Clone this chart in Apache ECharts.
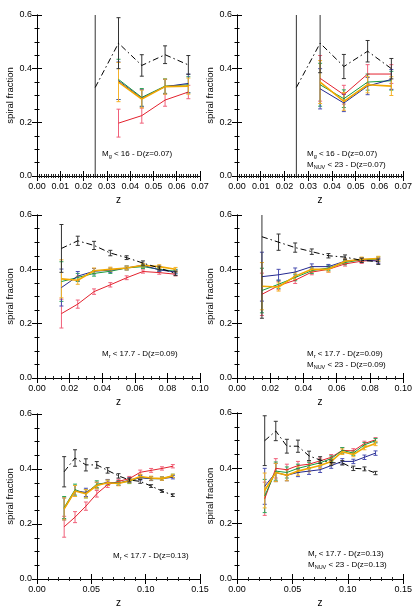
<!DOCTYPE html>
<html>
<head>
<meta charset="utf-8">
<script src="https://cdn.jsdelivr.net/npm/echarts@6/dist/echarts.min.js"></script>
<style>
    html, body { margin: 0; padding: 0; background: #fff; }
    #chart { width: 415px; height: 616px; }
</style>
</head>
<body>
<div id="chart"></div>
<script>
// rows: black (all), red, green, blue, orange
const p1Z = [0.025, 0.035, 0.045, 0.055, 0.065]
const p1Frac = [
    [0.33, 0.495, 0.412, 0.452, 0.414],
    [null, 0.197, 0.225, 0.283, 0.313],
    [null, 0.36, 0.293, 0.335, 0.34],
    [null, 0.355, 0.29, 0.333, 0.345],
    [null, 0.35, 0.287, 0.333, 0.335]
]
const p1Err = [
    [0.7, 0.095, 0.04, 0.033, 0.035],
    [null, 0.052, 0.028, 0.023, 0.025],
    [null, 0.075, 0.033, 0.027, 0.03],
    [null, 0.07, 0.032, 0.027, 0.035],
    [null, 0.073, 0.033, 0.028, 0.03]
]

const p2Z = [0.025, 0.035, 0.045, 0.055, 0.065]
const p2Frac = [
    [0.33, 0.495, 0.408, 0.465, 0.40],
    [null, 0.364, 0.303, 0.38, 0.38],
    [null, 0.34, 0.288, 0.35, 0.355],
    [null, 0.325, 0.272, 0.335, 0.36],
    [null, 0.35, 0.278, 0.34, 0.335]
]
const p2Err = [
    [0.7, 0.11, 0.045, 0.04, 0.038],
    [null, 0.085, 0.035, 0.035, 0.035],
    [null, 0.08, 0.033, 0.03, 0.035],
    [null, 0.075, 0.032, 0.032, 0.037],
    [null, 0.08, 0.033, 0.03, 0.035]
]

const p3Z = [0.015, 0.025, 0.035, 0.045, 0.055, 0.065, 0.075, 0.085]
const p3Frac = [
    [0.477, 0.505, 0.488, 0.46, 0.443, 0.423, 0.405, 0.385],
    [0.237, 0.272, 0.318, 0.343, 0.369, 0.392, 0.388, 0.382],
    [0.355, 0.37, 0.385, 0.393, 0.405, 0.41, 0.40, 0.393],
    [0.333, 0.375, 0.393, 0.397, 0.405, 0.415, 0.398, 0.39],
    [0.365, 0.36, 0.395, 0.40, 0.405, 0.415, 0.41, 0.40]
]
const p3Err = [
    [0.088, 0.017, 0.015, 0.01, 0.007, 0.008, 0.007, 0.008],
    [0.053, 0.015, 0.01, 0.008, 0.007, 0.006, 0.006, 0.006],
    [0.073, 0.015, 0.01, 0.008, 0.007, 0.007, 0.007, 0.007],
    [0.068, 0.017, 0.01, 0.008, 0.007, 0.007, 0.007, 0.007],
    [0.07, 0.015, 0.01, 0.008, 0.007, 0.007, 0.007, 0.007]
]

const p4Z = [0.015, 0.025, 0.035, 0.045, 0.055, 0.065, 0.075, 0.085]
const p4Frac = [
    [0.52, 0.50, 0.48, 0.465, 0.45, 0.445, 0.433, 0.428],
    [0.308, 0.34, 0.36, 0.39, 0.40, 0.42, 0.43, 0.435],
    [0.322, 0.345, 0.37, 0.395, 0.405, 0.425, 0.435, 0.438],
    [0.373, 0.38, 0.39, 0.41, 0.41, 0.43, 0.435, 0.43],
    [0.338, 0.335, 0.375, 0.40, 0.40, 0.43, 0.437, 0.44]
]
const p4Err = [
    [0.3, 0.03, 0.017, 0.01, 0.008, 0.008, 0.008, 0.01],
    [0.078, 0.015, 0.012, 0.01, 0.01, 0.008, 0.008, 0.008],
    [0.082, 0.015, 0.012, 0.01, 0.01, 0.008, 0.008, 0.008],
    [0.09, 0.02, 0.015, 0.01, 0.008, 0.008, 0.008, 0.008],
    [0.087, 0.015, 0.012, 0.01, 0.01, 0.008, 0.008, 0.008]
]

const p5Z = [0.025, 0.035, 0.045, 0.055, 0.065, 0.075, 0.085, 0.095, 0.105, 0.115, 0.125]
const p5Frac = [
    [0.39, 0.44, 0.415, 0.415, 0.395, 0.375, 0.36, 0.355, 0.338, 0.32, 0.305],
    [0.19, 0.225, 0.265, 0.31, 0.343, 0.355, 0.365, 0.388, 0.395, 0.402, 0.41],
    [0.26, 0.325, 0.31, 0.345, 0.35, 0.35, 0.355, 0.37, 0.365, 0.365, 0.375],
    [0.255, 0.32, 0.315, 0.34, 0.352, 0.348, 0.36, 0.368, 0.365, 0.365, 0.37],
    [0.255, 0.32, 0.31, 0.34, 0.35, 0.347, 0.357, 0.373, 0.367, 0.365, 0.375]
]
const p5Err = [
    [0.055, 0.03, 0.022, 0.012, 0.01, 0.008, 0.007, 0.007, 0.005, 0.005, 0.005],
    [0.038, 0.02, 0.015, 0.012, 0.01, 0.008, 0.008, 0.008, 0.007, 0.006, 0.006],
    [0.04, 0.02, 0.015, 0.012, 0.01, 0.008, 0.008, 0.008, 0.007, 0.006, 0.006],
    [0.04, 0.02, 0.015, 0.012, 0.01, 0.008, 0.008, 0.008, 0.007, 0.006, 0.006],
    [0.04, 0.02, 0.015, 0.012, 0.01, 0.008, 0.008, 0.008, 0.007, 0.006, 0.006]
]

const p6Z = [0.025, 0.035, 0.045, 0.055, 0.065, 0.075, 0.085, 0.095, 0.105, 0.115, 0.125]
const p6Frac = [
    [0.50, 0.535, 0.48, 0.48, 0.445, 0.43, 0.42, 0.42, 0.40, 0.398, 0.383],
    [0.29, 0.40, 0.395, 0.41, 0.415, 0.427, 0.44, 0.465, 0.463, 0.49, 0.503],
    [0.30, 0.39, 0.385, 0.40, 0.41, 0.42, 0.435, 0.465, 0.455, 0.485, 0.50],
    [0.335, 0.385, 0.375, 0.385, 0.39, 0.395, 0.41, 0.425, 0.425, 0.44, 0.455],
    [0.32, 0.385, 0.375, 0.39, 0.40, 0.41, 0.425, 0.46, 0.45, 0.475, 0.49]
]
const p6Err = [
    [0.09, 0.035, 0.025, 0.022, 0.017, 0.012, 0.01, 0.008, 0.008, 0.007, 0.006],
    [0.06, 0.035, 0.02, 0.015, 0.012, 0.01, 0.01, 0.01, 0.008, 0.008, 0.008],
    [0.06, 0.033, 0.02, 0.015, 0.012, 0.01, 0.01, 0.01, 0.008, 0.008, 0.008],
    [0.065, 0.033, 0.02, 0.015, 0.012, 0.01, 0.01, 0.01, 0.008, 0.008, 0.008],
    [0.063, 0.033, 0.02, 0.015, 0.012, 0.01, 0.01, 0.01, 0.008, 0.008, 0.008]
]

const lineColors = ['#000000', '#e3212d', '#149a3c', '#23288f', '#f2a900']
const errColors = ['#333333', '#f0607a', '#2aa85a', '#4a4fb0', '#f5b22a']
const lineWidths = [1, 1, 1, 1, 1.6]
// draw colours first, black dash-dot on top
const drawOrder = [1, 2, 3, 4, 0]

const panels = [
    { z: p1Z, frac: p1Frac, err: p1Err, xMax: 0.07, xStep: 0.01, minor: 10, grid: { left: 37, top: 15, width: 163, height: 161 } },
    { z: p2Z, frac: p2Frac, err: p2Err, xMax: 0.07, xStep: 0.01, minor: 10, grid: { left: 237, top: 15, width: 167, height: 161 } },
    { z: p3Z, frac: p3Frac, err: p3Err, xMax: 0.10, xStep: 0.02, minor: 4, grid: { left: 37, top: 215, width: 163, height: 163 } },
    { z: p4Z, frac: p4Frac, err: p4Err, xMax: 0.10, xStep: 0.02, minor: 4, grid: { left: 237, top: 215, width: 167, height: 163 } },
    { z: p5Z, frac: p5Frac, err: p5Err, xMax: 0.15, xStep: 0.05, minor: 5, grid: { left: 37, top: 414, width: 163, height: 165 } },
    { z: p6Z, frac: p6Frac, err: p6Err, xMax: 0.15, xStep: 0.05, minor: 5, grid: { left: 237, top: 413, width: 167, height: 166 } }
]

const font = 'Liberation Sans, Arial, sans-serif'
const axisBlack = { lineStyle: { color: '#000', width: 1 } }

const chart = echarts.init(document.getElementById('chart'), null, { renderer: 'canvas' })

const grids = []
const xAxes = []
const yAxes = []
const series = []

const errRender = (color) => (params, api) => {
    const x = api.value(0)
    const top = api.coord([x, api.value(2)])
    const bot = api.coord([x, api.value(1)])
    const style = { stroke: color, lineWidth: 1 }
    return {
        type: 'group',
        children: [
            { type: 'line', shape: { x1: top[0], y1: top[1], x2: bot[0], y2: bot[1] }, style },
            { type: 'line', shape: { x1: top[0] - 2, y1: top[1], x2: top[0] + 2, y2: top[1] }, style },
            { type: 'line', shape: { x1: bot[0] - 2, y1: bot[1], x2: bot[0] + 2, y2: bot[1] }, style }
        ]
    }
}

panels.forEach((p, i) => {
    grids.push(p.grid)
    const xBase = {
        gridIndex: i, type: 'value', min: 0, max: p.xMax, interval: p.xStep,
        splitLine: { show: false },
        axisLine: axisBlack,
        axisTick: { inside: true, length: 5, lineStyle: { color: '#000' } },
        minorTick: { show: true, splitNumber: p.minor, length: 2, lineStyle: { color: '#222' } }
    }
    xAxes.push(Object.assign({}, xBase, {
        position: 'bottom',
        name: 'z', nameLocation: 'middle', nameGap: 19,
        nameTextStyle: { fontFamily: font, fontSize: 10, color: '#000' },
        axisLabel: { fontFamily: font, fontSize: 9, color: '#000', margin: 6, formatter: v => v.toFixed(2) }
    }))
    xAxes.push(Object.assign({}, xBase, { position: 'top', axisLabel: { show: false } }))

    const yBase = {
        gridIndex: i, type: 'value', min: 0, max: 0.6, interval: 0.2,
        splitLine: { show: false },
        axisLine: axisBlack,
        axisTick: { inside: true, length: 5, lineStyle: { color: '#000' } },
        minorTick: { show: true, splitNumber: 4, length: 2.5, lineStyle: { color: '#000' } }
    }
    yAxes.push(Object.assign({}, yBase, {
        position: 'left',
        name: 'spiral fraction', nameLocation: 'middle', nameGap: 20,
        nameTextStyle: { fontFamily: font, fontSize: 9.5, color: '#000' },
        axisLabel: { fontFamily: font, fontSize: 9, color: '#000', margin: 5, formatter: v => v.toFixed(1) }
    }))
    yAxes.push(Object.assign({}, yBase, { position: 'right', axisLabel: { show: false } }))

    drawOrder.forEach(k => {
        const pts = []
        const bars = []
        p.z.forEach((z, j) => {
            const v = p.frac[k][j]
            if (v === null) return
            const e = p.err[k][j]
            pts.push([z, v])
            bars.push([z, v - e, v + e])
        })
        series.push({
            type: 'custom',
            xAxisIndex: 2 * i, yAxisIndex: 2 * i,
            clip: true,
            silent: true,
            renderItem: errRender(errColors[k]),
            encode: { x: 0, y: [1, 2] },
            data: bars,
            z: k === 0 ? 5 : 2
        })
        series.push({
            type: 'line',
            xAxisIndex: 2 * i, yAxisIndex: 2 * i,
            showSymbol: false,
            silent: true,
            clip: true,
            lineStyle: {
                color: lineColors[k],
                width: lineWidths[k],
                type: k === 0 ? [6, 3, 1.5, 3] : 'solid'
            },
            data: pts,
            z: k === 0 ? 6 : 3
        })
    })
})

const rich = {
    t: { fontFamily: font, fontSize: 8, color: '#000', lineHeight: 11 },
    s: { fontFamily: font, fontSize: 5.5, color: '#000', lineHeight: 11, padding: [5, 0, 0, 0] }
}
const note = (left, top, text) => ({
    type: 'text', left, top, silent: true,
    style: { text, rich, fontFamily: font, fontSize: 8, fill: '#000' }
})

const option = {
    animation: false,
    grid: grids,
    xAxis: xAxes,
    yAxis: yAxes,
    series: series,
    graphic: [
        note(102, 148, '{t|M}{s|g}{t| < 16 - D(z=0.07)}'),
        note(307, 148, '{t|M}{s|g}{t| < 16 - D(z=0.07)}\n{t|M}{s|NUV}{t| < 23 - D(z=0.07)}'),
        note(102, 348, '{t|M}{s|r}{t| < 17.7 - D(z=0.09)}'),
        note(307, 348, '{t|M}{s|r}{t| < 17.7 - D(z=0.09)}\n{t|M}{s|NUV}{t| < 23 - D(z=0.09)}'),
        note(113, 550, '{t|M}{s|r}{t| < 17.7 - D(z=0.13)}'),
        note(308, 548, '{t|M}{s|r}{t| < 17.7 - D(z=0.13)}\n{t|M}{s|NUV}{t| < 23 - D(z=0.13)}')
    ]
}

chart.setOption(option)
</script>
</body>
</html>
